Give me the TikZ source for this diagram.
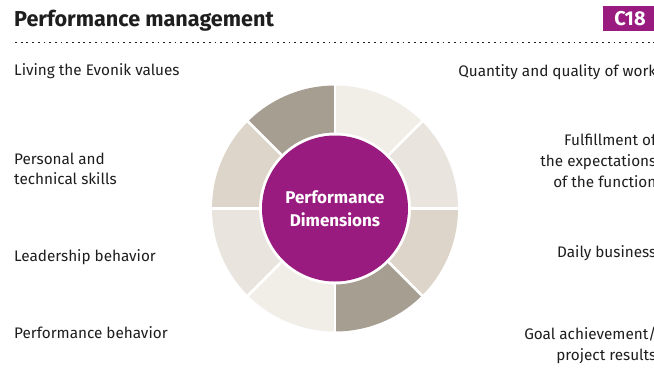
\documentclass[tikz,border=0pt]{standalone}
\usepackage{fontspec}
\setmainfont{Fira Sans}
\definecolor{evpurple}{HTML}{9A1B80}
\definecolor{segdark}{HTML}{A79E92}
\definecolor{segmid}{HTML}{DDD5C9}
\definecolor{seglight}{HTML}{E9E5DE}
\definecolor{segpale}{HTML}{F1EEE8}
\definecolor{txt}{HTML}{1E1E1E}
\begin{document}
\begin{tikzpicture}[x=1pt,y=-1pt,
  lbl/.style={font=\fontsize{15.3}{20.5}\selectfont, text=txt, inner sep=0pt, align=left, anchor=west},
  rlbl/.style={font=\fontsize{15.3}{21}\selectfont, text=txt, inner sep=0pt, align=right, anchor=east},
  gapline/.style={white, line width=2.6pt}]
\fill[white] (0,0) rectangle (654,375);
\useasboundingbox (0,0) rectangle (654,375);
% title
\node[anchor=base west, inner sep=0pt, font=\fontsize{21.6}{24}\bfseries\selectfont, text=txt] (title) at (14,26) {Performance management};
\fill[evpurple] (603,6) rectangle (660,31);
\node[anchor=base, inner sep=0pt, font=\fontsize{20}{24}\selectfont\bfseries, text=white] (code) at (630,25.5) {C18};
\draw[txt, line width=1.8pt, dash pattern=on 1.8pt off 3.9pt] (15,42.5) -- (654,42.5);
% ring
\begin{scope}[shift={(335,208.5)}, y=1pt]
  \foreach \a/\c in {0/seglight,45/segpale,90/segdark,135/segmid,180/seglight,225/segpale,270/segdark,315/segmid}{
    \fill[\c] (\a:76) arc[start angle=\a, end angle=\a+45, radius=76] -- (\a+45:123) arc[start angle=\a+45, end angle=\a, radius=123] -- cycle;
  }
  \foreach \a in {0,45,...,315}{
    \draw[gapline] (\a:70) -- (\a:126);
  }
  \fill[evpurple] (0,0) circle[radius=73];
  \node[font=\fontsize{17}{23}\selectfont\bfseries, text=white, align=center, inner sep=0pt] (center) at (0,-0.5) {Performance\\Dimensions};
\end{scope}
% left labels
\node[lbl] (l1) at (14,71.5) {Living the Evonik values};
\node[lbl] (l2) at (14,169) {Personal and\\technical skills};
\node[lbl] (l3) at (14,257) {Leadership behavior};
\node[lbl] (l4) at (14,333) {Performance behavior};
% right labels
\node[rlbl] (r1) at (656.5,72) {Quantity and quality of work};
\node[rlbl] (r2) at (656.5,161) {Fulfillment of\\the expectations\\of the function};
\node[rlbl] (r3) at (656.5,253) {Daily business};
\node[rlbl] (r4) at (656.5,345) {Goal achievement/\\project results};
\end{tikzpicture}
\end{document}
